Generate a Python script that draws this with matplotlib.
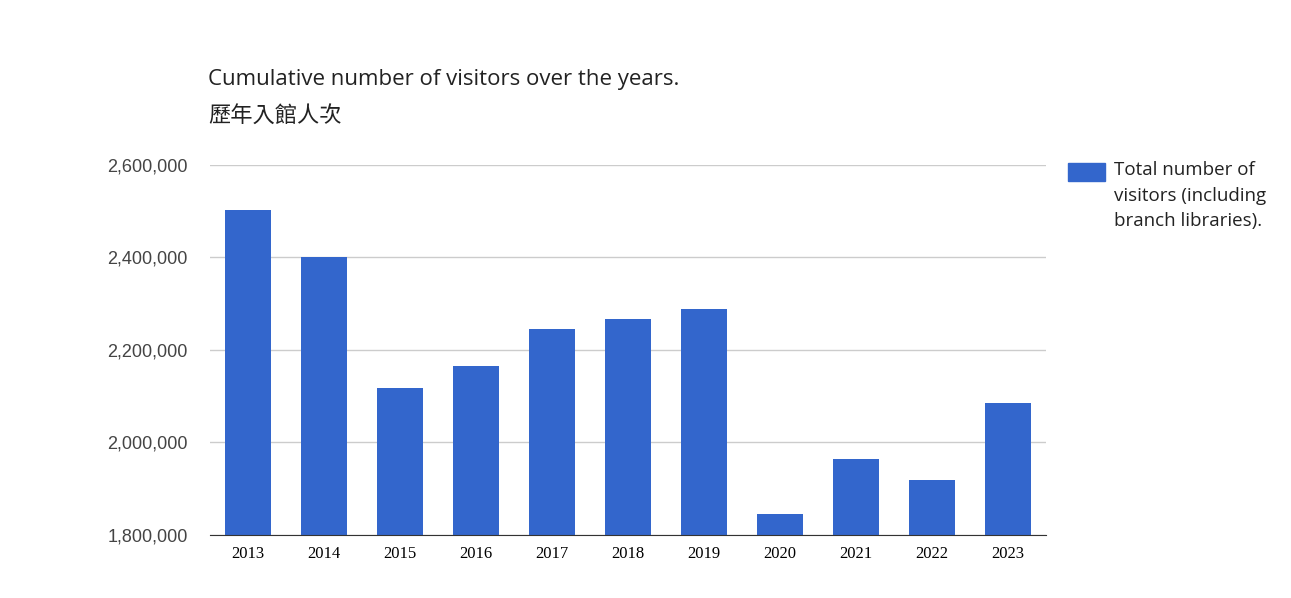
import matplotlib
matplotlib.use('Agg')
import matplotlib.pyplot as plt
from matplotlib.patches import Rectangle

years = ['2013', '2014', '2015', '2016', '2017', '2018', '2019', '2020', '2021', '2022', '2023']
visitors = [2503000, 2401000, 2118000, 2165000, 2245000, 2267000, 2289000,
            1845000, 1964000, 1919000, 2085000]
yticks = [1800000, 2000000, 2200000, 2400000, 2600000]
bar_color = '#3366cc'

W, H = 1291, 598
fig = plt.figure(figsize=(W / 100, H / 100), dpi=100)
ax = fig.add_axes([210 / W, 1 - 535 / H, (1046 - 210) / W, (535 - 165) / H])

x = range(len(years))
ax.bar(x, visitors, width=0.61, color=bar_color, zorder=2)
ax.set_xlim(-0.5, len(years) - 0.5)
ax.set_ylim(1800000, 2600000)
ax.set_yticks(yticks)
ax.set_yticklabels([f'{v:,}' for v in yticks], fontsize=13, color='#444444',
                   family='Liberation Sans')
ax.set_xticks(list(x))
ax.set_xticklabels(years, fontsize=12, family='Liberation Serif')
ax.grid(axis='y', color='#cccccc', linewidth=1, zorder=0)
ax.tick_params(length=0)
ax.tick_params(axis='y', pad=16)
ax.tick_params(axis='x', pad=8)
for s in ['top', 'right', 'left']:
    ax.spines[s].set_visible(False)
ax.spines['bottom'].set_color('#333333')

fig.text(208 / W, 1 - 80 / H, 'Cumulative number of visitors over the years.',
         fontsize=16, family='Open Sans', color='#222222', va='center')
fig.text(208 / W, 1 - 116 / H, '歷年入館人次', fontsize=16,
         family='Noto Sans CJK TC', color='#222222', va='center')

# legend
fig.patches.append(Rectangle((1068 / W, 1 - 181 / H), 37 / W, 18 / H,
                             transform=fig.transFigure, color=bar_color))
fig.text(1114 / W, 1 - 172 / H, 'Total number of\nvisitors (including\nbranch libraries).',
         fontsize=13.5, family='Open Sans', color='#222222', va='top',
         linespacing=1.55, transform=fig.transFigure)
fig.texts[-1].set_y(1 - 161 / H)

fig.savefig('out.png', dpi=100)
